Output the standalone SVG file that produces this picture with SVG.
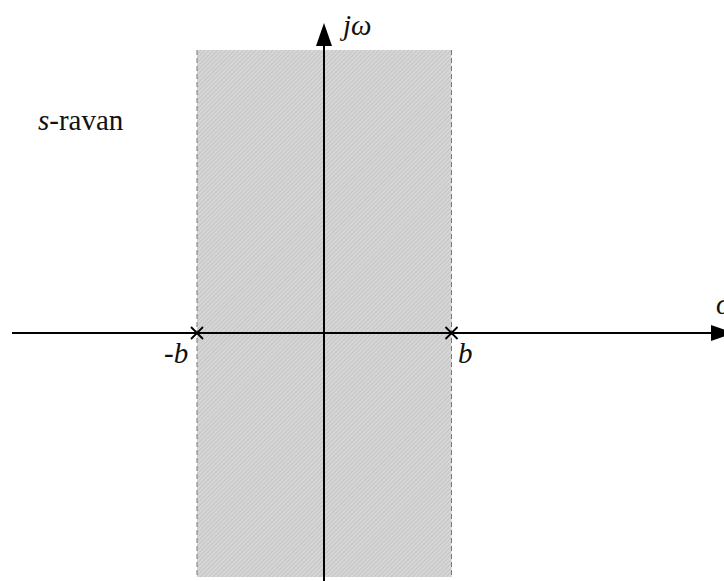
<svg xmlns="http://www.w3.org/2000/svg" width="724" height="581" viewBox="0 0 724 581">
<style>
text{font-family:'Liberation Serif','Times New Roman','DejaVu Serif',serif;font-size:29px;fill:#111}
.it{font-style:italic}
.axis{stroke:#000;stroke-width:2;fill:none}
.edge{stroke:#777;stroke-width:1;stroke-dasharray:5,3;fill:none}
.cross{stroke:#000;stroke-width:1.8;fill:none}
</style>
<defs>
<pattern id="hatch" width="3" height="3" patternUnits="userSpaceOnUse" patternTransform="rotate(45)">
<rect width="3" height="3" fill="#d6d6d6"/>
<line x1="0" y1="0" x2="0" y2="3" stroke="#b4b4b4" stroke-width="1"/>
</pattern>
<marker id="arr" markerUnits="userSpaceOnUse" markerWidth="24" markerHeight="18" refX="0" refY="8" orient="auto">
<path d="M0,0 L23,8 L0,16 Z" fill="#000"/>
</marker>
</defs>
<g id="region">
<rect x="197" y="50" width="254.5" height="527" fill="url(#hatch)"/>
<line class="edge" x1="197" y1="50" x2="197" y2="577"/>
<line class="edge" x1="451.5" y1="50" x2="451.5" y2="577"/>
</g>
<g id="connectors">
<line class="axis" x1="12" y1="333" x2="711" y2="333" marker-end="url(#arr)"/>
<line class="axis" x1="324" y1="581" x2="324" y2="46" marker-end="url(#arr)"/>
</g>
<g id="pole-left">
<path class="cross" d="M191,327 L203,339 M203,327 L191,339"/>
<text class="it" x="164" y="363" font-family="Liberation Serif, serif">-b</text>
</g>
<g id="pole-right">
<path class="cross" d="M445.5,327 L457.5,339 M457.5,327 L445.5,339"/>
<text class="it" x="458" y="363" font-family="Liberation Serif, serif">b</text>
</g>
<g id="labels">
<text x="38" y="130" font-family="Liberation Serif, serif"><tspan class="it">s</tspan>-ravan</text>
<text class="it" x="343" y="35" font-family="Liberation Serif, serif">jω</text>
<text class="it" x="716" y="314" font-family="Liberation Serif, serif">σ</text>
</g>
</svg>
